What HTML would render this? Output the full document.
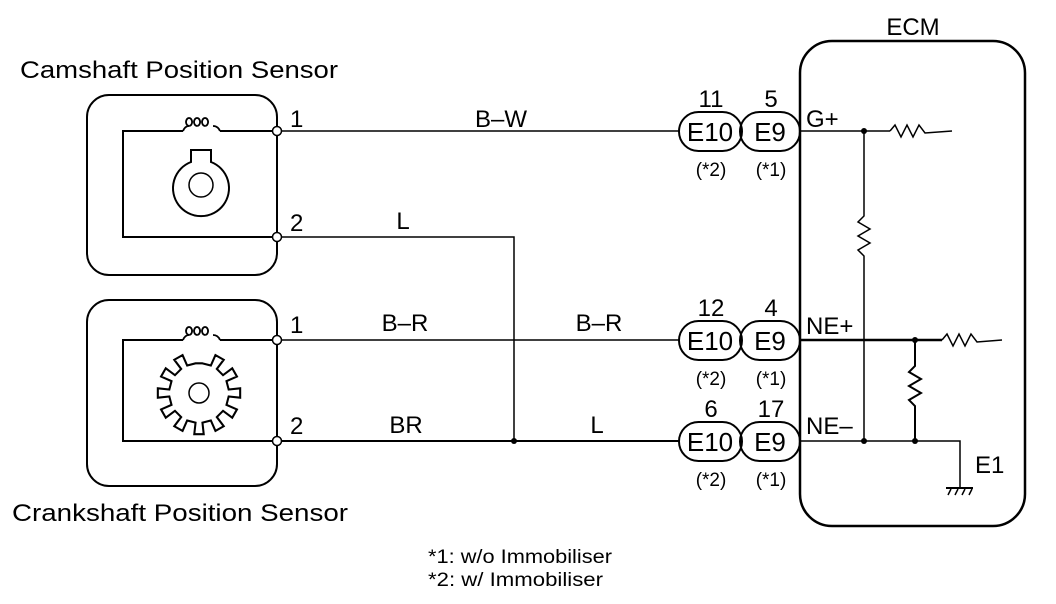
<!DOCTYPE html>
<html><head><meta charset="utf-8"><style>
html,body{margin:0;padding:0;background:#fff;}
svg{display:block;}
text{font-family:"Liberation Sans",sans-serif;fill:#000;}
</style></head><body>
<svg width="1056" height="604" viewBox="0 0 1056 604" xmlns="http://www.w3.org/2000/svg">
<g fill="none" stroke="#000" stroke-width="2">
<rect x="87" y="95" width="190" height="180" rx="22"/>
<rect x="87" y="300" width="190" height="186" rx="22"/>
<rect x="800" y="41" width="225" height="485" rx="32" stroke-width="2.5"/>
<polyline points="183,131 123,131 123,237 277,237"/>
<line x1="220" y1="131" x2="277" y2="131"/>
<path d="M183,131 q2,-5 6,-5 M189,126 a3,4 0 1 1 0.1,0 M197,126 a3,4 0 1 1 0.1,0 M205,126 a3,4 0 1 1 0.1,0 M213,126 q5,0 7,5" stroke-width="1.8"/>
<path d="M191,162 L191,150 L211,150 L211,162 A28,28 0 1 1 191,162 Z"/>
<circle cx="201" cy="185" r="12" stroke-width="1.5"/>
<polyline points="183,340 123,340 123,441 277,441"/>
<line x1="220" y1="340" x2="277" y2="340"/>
<path d="M183,340 q2,-5 6,-5 M189,335 a3,4 0 1 1 0.1,0 M197,335 a3,4 0 1 1 0.1,0 M205,335 a3,4 0 1 1 0.1,0 M213,335 q5,0 7,5" stroke-width="1.8"/>
<g transform="translate(199,393) scale(1.15) translate(-199,-392)">
<polygon stroke-width="1.8" points="202,366.2 209.3,368.1 213.3,359 220.5,363.1 214.5,371.1 219.9,376.5 227.9,370.5 232,377.7 222.9,381.7 224.8,389 234.8,387.9 234.8,396.1 224.8,395 222.9,402.3 232,406.3 227.9,413.5 219.9,407.5 214.5,412.9 220.5,420.9 213.3,425 209.3,415.9 202,417.8 203.1,427.8 194.9,427.8 196,417.8 188.7,415.9 184.7,425 177.5,420.9 183.5,412.9 178.1,407.5 170.1,413.5 166,406.3 175.1,402.3 173.2,395 163.2,396.1 163.2,387.9 173.2,389 175.1,381.7 166,377.7 170.1,370.5 178.1,376.5 183.5,371.1 177.5,363.1 184.7,359 188.7,368.1 196,366.2"/>
</g>
<circle cx="199" cy="393" r="10" stroke-width="1.5"/>
<line x1="277" y1="131" x2="679" y2="131" stroke-width="1.5"/>
<polyline points="277,237 514,237 514,441" stroke-width="1.5"/>
<line x1="277" y1="340" x2="679" y2="340" stroke-width="1.5"/>
<line x1="277" y1="441" x2="679" y2="441" stroke-width="2"/>
<rect x="679" y="112" width="63" height="39" rx="19.5"/>
<rect x="740" y="112" width="60" height="39" rx="19.5"/>
<rect x="679" y="321" width="63" height="39" rx="19.5"/>
<rect x="740" y="321" width="60" height="39" rx="19.5"/>
<rect x="679" y="422" width="63" height="39" rx="19.5"/>
<rect x="740" y="422" width="60" height="39" rx="19.5"/>
<line x1="800" y1="131" x2="890" y2="131" stroke-width="1.5"/>
<polyline points="890,131 895,125 901,137 907,125 913,137 919,125 925,133 952,131" stroke-width="1.5"/>
<polyline points="864,131 864,216 858,222 870,229 858,236 870,243 858,250 864,256 864,441" stroke-width="1.5"/>
<line x1="800" y1="340" x2="942" y2="340" stroke-width="2.5"/>
<polyline points="942,340 947,334 953,346 959,334 965,346 971,334 977,342 1002,340" stroke-width="1.5"/>
<polyline points="915,340 915,366 909,372 921,379 909,386 921,393 909,400 915,406 915,441" stroke-width="2"/>
<polyline points="800,441 960,441 960,488" stroke-width="1.5"/>
<line x1="946" y1="488" x2="973" y2="488" stroke-width="2"/>
<path d="M951,489 l-3,6 M958,489 l-3,6 M965,489 l-3,6 M972,489 l-3,6" stroke-width="1.5"/>
</g>
<g fill="#fff" stroke="#000" stroke-width="1.5">
<circle cx="277" cy="131" r="4.5"/><circle cx="277" cy="237" r="4.5"/>
<circle cx="277" cy="340" r="4.5"/><circle cx="277" cy="441" r="4.5"/>
</g>
<g fill="#000">
<circle cx="514" cy="441" r="3"/><circle cx="864" cy="131" r="3"/>
<circle cx="915" cy="340" r="3"/><circle cx="864" cy="441" r="3"/><circle cx="915" cy="441" r="3"/>
</g>
<g font-size="24">
<text x="20" y="78" textLength="318" lengthAdjust="spacingAndGlyphs">Camshaft Position Sensor</text>
<text x="12" y="521" textLength="336" lengthAdjust="spacingAndGlyphs">Crankshaft Position Sensor</text>
<text x="913" y="35" text-anchor="middle">ECM</text>
<text x="290" y="127">1</text><text x="290" y="231">2</text>
<text x="290" y="333">1</text><text x="290" y="434">2</text>
<text x="501" y="127" text-anchor="middle">B–W</text>
<text x="403" y="229" text-anchor="middle">L</text>
<text x="405" y="331" text-anchor="middle">B–R</text>
<text x="599" y="331" text-anchor="middle">B–R</text>
<text x="406" y="433" text-anchor="middle">BR</text>
<text x="597" y="433" text-anchor="middle">L</text>
<text x="711" y="107" text-anchor="middle">11</text><text x="771" y="107" text-anchor="middle">5</text>
<text x="711" y="316" text-anchor="middle">12</text><text x="771" y="316" text-anchor="middle">4</text>
<text x="711" y="417" text-anchor="middle">6</text><text x="771" y="417" text-anchor="middle">17</text>
<text x="806" y="127">G+</text>
<text x="806" y="334">NE+</text>
<text x="806" y="434">NE–</text>
<text x="975" y="473">E1</text>
</g>
<g font-size="26">
<text x="710" y="141" text-anchor="middle">E10</text><text x="770" y="141" text-anchor="middle">E9</text>
<text x="710" y="350" text-anchor="middle">E10</text><text x="770" y="350" text-anchor="middle">E9</text>
<text x="710" y="451" text-anchor="middle">E10</text><text x="770" y="451" text-anchor="middle">E9</text>
</g>
<g font-size="19">
<text x="711" y="176" text-anchor="middle">(*2)</text><text x="771" y="176" text-anchor="middle">(*1)</text>
<text x="711" y="385" text-anchor="middle">(*2)</text><text x="771" y="385" text-anchor="middle">(*1)</text>
<text x="711" y="486" text-anchor="middle">(*2)</text><text x="771" y="486" text-anchor="middle">(*1)</text>
</g>
<g font-size="19">
<text x="428" y="563" textLength="184" lengthAdjust="spacingAndGlyphs">*1: w/o Immobiliser</text>
<text x="428" y="586" textLength="175" lengthAdjust="spacingAndGlyphs">*2: w/ Immobiliser</text>
</g>
</svg>
</body></html>
